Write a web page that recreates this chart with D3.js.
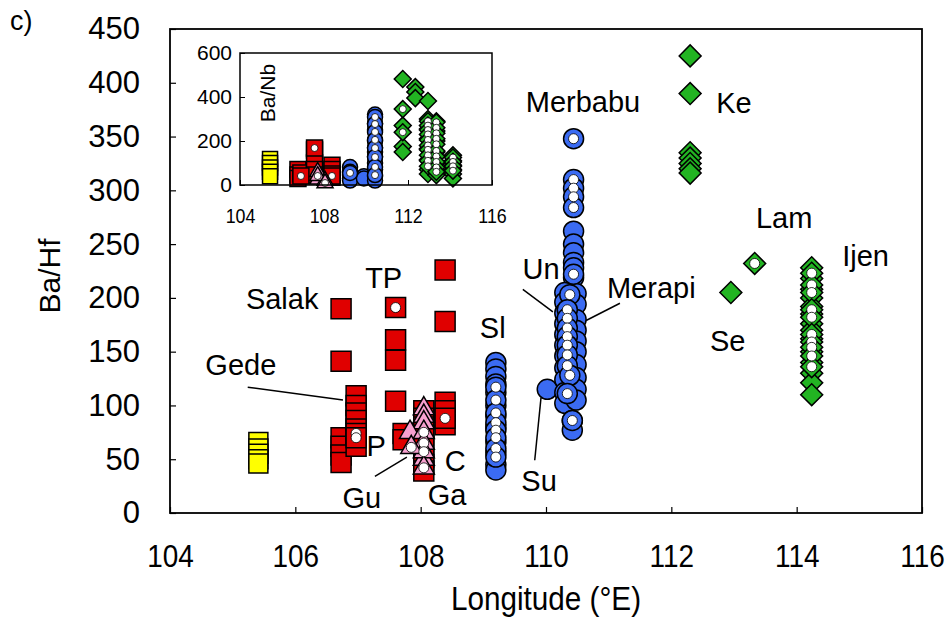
<!DOCTYPE html>
<html>
<head>
<meta charset="utf-8">
<script src="https://cdn.jsdelivr.net/npm/d3@7"></script>
<style>
  body { margin: 0; background: #fff; }
  text { font-family: "Liberation Sans", Arial, sans-serif; fill: #000; }
</style>
</head>
<body>
<svg id="chart" width="952" height="621"></svg>
<script>
// ---- DATA: [longitude, ratio] ----
// main panel, Ba/Hf
const yellowHf = [[105.41,66],[105.41,60],[105.41,55],[105.41,50],[105.41,46]];
const redHf = [
  [106.73,190],[106.73,141],[106.73,70],[106.73,62],[106.73,54],[106.73,47],
  [106.97,109],[106.97,100],[106.97,93],[106.97,86],[106.97,78],[106.97,62],
  [107.6,161],[107.6,142],[107.6,104],[107.72,74],[107.72,68],
  [108.05,95],[108.05,88],[108.05,80],[108.05,72],[108.05,62],[108.05,52],[108.05,45],[108.05,39],
  [108.39,226],[108.39,178],[108.39,103],[108.39,95],[108.39,82]
];
const redDotHf = [[106.97,74],[106.97,70],[107.6,191],[108.39,88]];
const pinkHf = [[108.05,97],[108.05,90],[108.05,84],[107.83,75],[108.05,50]];
const pinkDotHf = [[108.05,75],[108.05,65],[108.05,57],[108.05,42],[107.85,61]];
const blueHf = [
  [109.2,140],[109.2,134],[109.2,127],[109.2,120],[109.2,112],[109.2,100],[109.2,90],[109.2,80],[109.2,66],[109.2,56],[109.2,45],[109.2,40],
  [110.02,115],
  [110.44,262],[110.44,250],[110.44,242],[110.44,233],[110.44,228],[110.44,219],
  [110.3,205],[110.3,196],[110.3,186],[110.3,176],[110.3,166],[110.3,156],[110.3,146],[110.3,135],[110.3,124],[110.3,112],[110.3,102],
  [110.48,204],[110.48,194],[110.48,180],[110.48,170],[110.48,160],[110.48,150],[110.48,138],[110.48,126],[110.48,115],[110.48,105],
  [110.42,86],[110.42,77]
];
const blueDotHf = [
  [109.2,117],[109.2,105],[109.2,93],[109.2,84],[109.2,77],[109.2,70],[109.2,60],[109.2,52],
  [110.44,348],[110.44,310],[110.44,302],[110.44,294],[110.44,284],[110.44,222],
  [110.38,203],[110.34,189],[110.34,181],[110.34,172],[110.34,164],[110.34,156],[110.34,147],[110.34,137],[110.38,128],[110.34,111],[110.42,86]
];
const greenHf = [
  [112.3,425],[112.3,390],[112.3,335],[112.3,330],[112.3,325],[112.3,320],[112.3,316],
  [112.95,205],
  [114.24,228],[114.24,218],[114.24,208],[114.24,200],[114.24,192],[114.24,185],[114.24,176],[114.24,170],
  [114.24,162],[114.24,150],[114.24,140],[114.24,130],[114.24,121],[114.24,110]
];
const greenDotHf = [
  [113.33,232],
  [114.24,223],[114.24,212],[114.24,205],[114.24,189],[114.24,182],[114.24,166],[114.24,159],[114.24,154],[114.24,146],[114.24,136]
];

// inset, Ba/Nb
const yellowNb = [[105.43,118],[105.43,100],[105.43,80],[105.43,60],[105.43,40]];
const redNb = [
  [106.76,70],[106.76,45],[106.76,30],[106.9,55],
  [107.55,159],[107.55,100],[107.55,70],[107.55,45],
  [108.38,90],[108.38,70],[108.38,50],[108.38,35]
];
const redDotNb = [[106.9,41],[107.55,168],[108.38,41]];
const pinkNb = [[107.7,60],[107.7,25],[108.05,20]];
const pinkDotNb = [[107.7,41],[108.05,9]];
const blueNb = [
  [109.24,82],[109.24,60],[109.24,45],[109.24,30],[109.24,20],
  [109.9,40],[109.9,30],
  [110.43,320],[110.43,280],[110.43,250],[110.43,200],[110.43,170],[110.43,150],[110.43,130],[110.43,100],[110.43,70],[110.43,40],[110.43,20]
];
const blueDotNb = [
  [109.24,55],
  [110.43,309],[110.43,277],[110.43,241],[110.43,205],[110.43,168],[110.43,127],[110.43,82],[110.43,45]
];
const greenNb = [
  [111.75,482],[111.75,270],[111.75,175],[111.75,150],
  [112.35,445],[112.35,423],[112.35,395],[112.95,382],
  [112.95,300],[112.95,255],[112.95,210],[112.95,165],[112.95,115],[112.95,70],[112.95,50],
  [113.35,290],[113.35,245],[113.35,200],[113.35,150],[113.35,100],[113.35,60],[113.35,45],
  [114.14,135],[114.14,110],[114.14,90],[114.14,70],[114.14,50],[114.14,30]
];
const greenDotNb = [
  [111.75,345],[111.75,240],
  [112.95,290],[112.95,270],[112.95,250],[112.95,230],[112.95,205],[112.95,180],[112.95,160],[112.95,135],[112.95,110],[112.95,85],
  [113.35,285],[113.35,260],[113.35,235],[113.35,210],[113.35,185],[113.35,155],[113.35,130],[113.35,105],[113.35,80],[113.35,60],
  [114.14,125],[114.14,105],[114.14,85],[114.14,65]
];

const xTicks = [104, 106, 108, 110, 112, 114, 116];
const yTicks = [0, 50, 100, 150, 200, 250, 300, 350, 400, 450];
const xTicksInset = [104, 108, 112, 116];
const yTicksInset = [0, 200, 400, 600];

// volcano labels: [text, lon, value]
const volcanoLabels = [
  ["Merbabu",110.59,373],["Ke",113.0,372],["Lam",113.8,265],["Ijen",115.1,230],
  ["Se",112.9,151],["Merapi",111.68,200],["Un",109.92,218],["Sl",109.15,163],
  ["Su",109.89,20],["TP",107.41,209],["Salak",105.79,190],["Gede",105.13,128],
  ["P",107.29,53],["C",108.55,39],["Gu",107.06,5],["Ga",108.42,7]
];
// leader lines: [lon1, val1, lon2, val2]
const leaders = [
  [105.24,117,106.76,105],
  [109.63,208,110.11,187],
  [111.18,195,110.64,179],
  [109.92,107,109.82,49],
  [107.27,34,107.78,52]
];

// ---- SETUP ----
const svg = d3.select('#chart');
const x = d3.scaleLinear().domain([104, 116]).range([170, 922]);
const y = d3.scaleLinear().domain([0, 450]).range([513, 29]);
const xi = d3.scaleLinear().domain([104, 116]).range([240, 492]);
const yi = d3.scaleLinear().domain([0, 600]).range([185, 53]);

const COL = {yellow: '#ffff00', red: '#e00000', pink: '#f7a0cf', blue: '#3b6bf2', green: '#22b422'};

function shapePath(shape, s) {
  if (shape === 'square' || shape === 'diamond') return d3.symbol(d3.symbolSquare, s * s)();
  return d3.symbol(d3.symbolTriangle, Math.sqrt(3) / 4 * s * s)();
}

function drawMarks(g, data, shape, fill, s, xs, ys, dotR) {
  let sel = g.append('g').selectAll('.m').data(data).enter();
  if (shape === 'circle') {
    sel.append('circle')
      .attr('cx', d => xs(d[0])).attr('cy', d => ys(d[1]))
      .attr('r', s / 2)
      .attr('fill', fill).attr('stroke', '#000').attr('stroke-width', 1.5);
  } else {
    sel.append('path')
      .attr('d', shapePath(shape, s))
      .attr('transform', d => 'translate(' + xs(d[0]) + ',' + ys(d[1]) + ')' + (shape === 'diamond' ? ' rotate(45)' : ''))
      .attr('fill', fill).attr('stroke', '#000').attr('stroke-width', 1.5);
  }
  if (dotR) {
    g.append('g').selectAll('.dot').data(data).enter().append('circle')
      .attr('cx', d => xs(d[0])).attr('cy', d => ys(d[1]))
      .attr('r', dotR)
      .attr('fill', '#fff').attr('stroke', '#000').attr('stroke-width', 0.8);
  }
}

// ---- MAIN AXES ----
let xAxis = d3.axisBottom(x).tickValues(xTicks).tickSize(-6).tickPadding(32).tickFormat(d3.format('d'));
let gx = svg.append('g').attr('transform', 'translate(0,513)').call(xAxis);
gx.select('.domain').remove();
gx.selectAll('text').attr('font-size', 31).attr('transform', 'scale(0.9,1)').attr('font-family', '"Liberation Sans", Arial, sans-serif');
gx.selectAll('line').attr('stroke-width', 1.2);

let yAxis = d3.axisLeft(y).tickValues(yTicks).tickSize(-6).tickPadding(30);
let gy = svg.append('g').attr('transform', 'translate(170,0)').call(yAxis);
gy.select('.domain').remove();
gy.selectAll('text').attr('font-size', 31).attr('font-family', '"Liberation Sans", Arial, sans-serif');
gy.selectAll('line').attr('stroke-width', 1.2);

svg.append('rect').attr('x', 170).attr('y', 29).attr('width', 752).attr('height', 484)
  .attr('fill', 'none').attr('stroke', '#000').attr('stroke-width', 1.8);

// ---- MAIN MARKERS ----
const main = svg.append('g');
drawMarks(main, yellowHf, 'square', COL.yellow, 19, x, y);
drawMarks(main, redHf, 'square', COL.red, 20, x, y);
drawMarks(main, redDotHf, 'square', COL.red, 20, x, y, 5);
drawMarks(main, pinkHf, 'triangle', COL.pink, 21, x, y);
drawMarks(main, pinkDotHf, 'triangle', COL.pink, 21, x, y, 5);
drawMarks(main, blueHf, 'circle', COL.blue, 20, x, y);
drawMarks(main, blueDotHf, 'circle', COL.blue, 20, x, y, 5);
drawMarks(main, greenHf, 'diamond', COL.green, 15.5, x, y);
drawMarks(main, greenDotHf, 'diamond', COL.green, 15.5, x, y, 5);

// labels and leaders
svg.append('g').selectAll('line').data(leaders).enter().append('line')
  .attr('x1', d => x(d[0])).attr('y1', d => y(d[1]))
  .attr('x2', d => x(d[2])).attr('y2', d => y(d[3]))
  .attr('stroke', '#000').attr('stroke-width', 1.5);

svg.append('g').selectAll('text').data(volcanoLabels).enter().append('text')
  .attr('x', d => x(d[1])).attr('y', d => y(d[2]))
  .attr('text-anchor', 'middle').attr('font-size', 29)
  .text(d => d[0]);

// ---- INSET ----
const inset = svg.append('g');
inset.append('rect').attr('x', 240).attr('y', 53).attr('width', 252).attr('height', 132)
  .attr('fill', '#fff').attr('stroke', 'none');

let xiAxis = d3.axisBottom(xi).tickValues(xTicksInset).tickSize(-5).tickPadding(23);
let gxi = inset.append('g').attr('transform', 'translate(0,185)').call(xiAxis);
gxi.select('.domain').remove();
gxi.selectAll('text').attr('font-size', 21).attr('transform', 'scale(0.85,1)').attr('font-family', '"Liberation Sans", Arial, sans-serif');

let yiAxis = d3.axisLeft(yi).tickValues(yTicksInset).tickSize(-5).tickPadding(8);
let gyi = inset.append('g').attr('transform', 'translate(240,0)').call(yiAxis);
gyi.select('.domain').remove();
gyi.selectAll('text').attr('font-size', 21).attr('font-family', '"Liberation Sans", Arial, sans-serif');

inset.append('text')
  .attr('transform', 'translate(275,93) rotate(-90)')
  .attr('text-anchor', 'middle').attr('font-size', 21)
  .text('Ba/Nb');

drawMarks(inset, yellowNb, 'square', COL.yellow, 15, xi, yi);
drawMarks(inset, redNb, 'square', COL.red, 16, xi, yi);
drawMarks(inset, redDotNb, 'square', COL.red, 16, xi, yi, 3.5);
drawMarks(inset, pinkNb, 'triangle', COL.pink, 16, xi, yi);
drawMarks(inset, pinkDotNb, 'triangle', COL.pink, 16, xi, yi, 3.5);
drawMarks(inset, blueNb, 'circle', COL.blue, 15, xi, yi);
drawMarks(inset, blueDotNb, 'circle', COL.blue, 15, xi, yi, 3.5);
drawMarks(inset, greenNb, 'diamond', COL.green, 12, xi, yi);
drawMarks(inset, greenDotNb, 'diamond', COL.green, 12, xi, yi, 3.5);

inset.append('rect').attr('x', 240).attr('y', 53).attr('width', 252).attr('height', 132)
  .attr('fill', 'none').attr('stroke', '#000').attr('stroke-width', 1.5);

// ---- TITLES ----
svg.append('text').attr('x', 546).attr('y', 610).attr('text-anchor', 'middle')
  .attr('font-size', 33).attr('transform', 'translate(546,0) scale(0.9,1) translate(-546,0)')
  .text('Longitude (°E)');
svg.append('text').attr('transform', 'translate(60,276) rotate(-90)')
  .attr('text-anchor', 'middle').attr('font-size', 30)
  .text('Ba/Hf');
svg.append('text').attr('x', 10).attr('y', 30).attr('font-size', 27).text('c)');
</script>
</body>
</html>
